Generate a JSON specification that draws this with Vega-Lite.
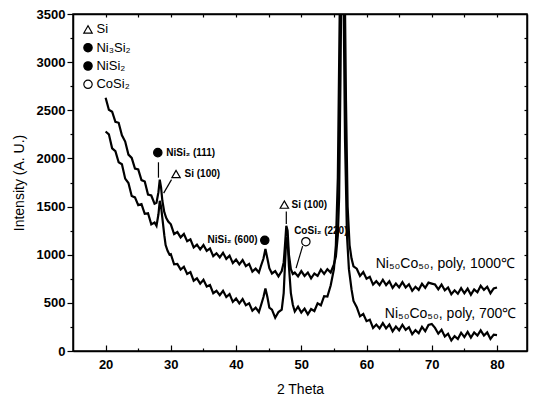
{
  "$schema": "https://vega.github.io/schema/vega-lite/v6.json",
  "width": 454,
  "height": 337,
  "autosize": "none",
  "padding": {"left": 73, "top": 14, "right": 6, "bottom": 48},
  "background": "white",
  "config": {
    "font": "Liberation Sans",
    "view": {"stroke": "black", "strokeWidth": 1.5},
    "axis": {"domainColor": "black", "tickColor": "black", "labelColor": "black", "titleColor": "black", "grid": false, "domainWidth": 1.5, "tickWidth": 1.2}
  },
  "datasets": {
    "curves": [
      {"x":20,"y":2630,"s":"1000"},{"x":20.5,"y":2505,"s":"1000"},{"x":21,"y":2485,"s":"1000"},{"x":21.5,"y":2380,"s":"1000"},{"x":22,"y":2370,"s":"1000"},{"x":22.5,"y":2240,"s":"1000"},{"x":23,"y":2175,"s":"1000"},{"x":23.5,"y":2040,"s":"1000"},{"x":24,"y":2005,"s":"1000"},{"x":24.5,"y":1895,"s":"1000"},{"x":25,"y":1885,"s":"1000"},{"x":25.5,"y":1775,"s":"1000"},{"x":26,"y":1760,"s":"1000"},{"x":26.5,"y":1625,"s":"1000"},{"x":27,"y":1615,"s":"1000"},{"x":27.5,"y":1530,"s":"1000"},{"x":27.8,"y":1540,"s":"1000"},{"x":28.1,"y":1650,"s":"1000"},{"x":28.3,"y":1780,"s":"1000"},{"x":28.5,"y":1700,"s":"1000"},{"x":28.7,"y":1560,"s":"1000"},{"x":29,"y":1440,"s":"1000"},{"x":29.3,"y":1380,"s":"1000"},{"x":29.6,"y":1345,"s":"1000"},{"x":30,"y":1315,"s":"1000"},{"x":30.5,"y":1215,"s":"1000"},{"x":31,"y":1235,"s":"1000"},{"x":31.5,"y":1180,"s":"1000"},{"x":32,"y":1215,"s":"1000"},{"x":32.5,"y":1140,"s":"1000"},{"x":33,"y":1160,"s":"1000"},{"x":33.5,"y":1075,"s":"1000"},{"x":34,"y":1105,"s":"1000"},{"x":34.5,"y":1055,"s":"1000"},{"x":35,"y":1100,"s":"1000"},{"x":35.5,"y":1040,"s":"1000"},{"x":36,"y":1065,"s":"1000"},{"x":36.5,"y":985,"s":"1000"},{"x":37,"y":1015,"s":"1000"},{"x":37.5,"y":973,"s":"1000"},{"x":38,"y":1020,"s":"1000"},{"x":38.5,"y":957,"s":"1000"},{"x":39,"y":990,"s":"1000"},{"x":39.5,"y":913,"s":"1000"},{"x":40,"y":950,"s":"1000"},{"x":40.5,"y":900,"s":"1000"},{"x":41,"y":945,"s":"1000"},{"x":41.5,"y":882,"s":"1000"},{"x":42,"y":905,"s":"1000"},{"x":42.5,"y":825,"s":"1000"},{"x":43,"y":855,"s":"1000"},{"x":43.5,"y":815,"s":"1000"},{"x":43.8,"y":880,"s":"1000"},{"x":44.2,"y":960,"s":"1000"},{"x":44.5,"y":1060,"s":"1000"},{"x":44.8,"y":960,"s":"1000"},{"x":45.1,"y":860,"s":"1000"},{"x":45.5,"y":805,"s":"1000"},{"x":46,"y":830,"s":"1000"},{"x":46.5,"y":775,"s":"1000"},{"x":47,"y":830,"s":"1000"},{"x":47.3,"y":920,"s":"1000"},{"x":47.5,"y":1100,"s":"1000"},{"x":47.7,"y":1300,"s":"1000"},{"x":47.9,"y":1250,"s":"1000"},{"x":48.1,"y":1000,"s":"1000"},{"x":48.4,"y":850,"s":"1000"},{"x":48.7,"y":800,"s":"1000"},{"x":49,"y":815,"s":"1000"},{"x":49.5,"y":775,"s":"1000"},{"x":50,"y":830,"s":"1000"},{"x":50.5,"y":780,"s":"1000"},{"x":51,"y":815,"s":"1000"},{"x":51.5,"y":755,"s":"1000"},{"x":52,"y":805,"s":"1000"},{"x":52.5,"y":780,"s":"1000"},{"x":53,"y":845,"s":"1000"},{"x":53.5,"y":800,"s":"1000"},{"x":54,"y":850,"s":"1000"},{"x":54.5,"y":815,"s":"1000"},{"x":55,"y":900,"s":"1000"},{"x":55.3,"y":980,"s":"1000"},{"x":55.6,"y":1200,"s":"1000"},{"x":55.8,"y":1600,"s":"1000"},{"x":56,"y":2800,"s":"1000"},{"x":56.15,"y":3900,"s":"1000"},{"x":56.6,"y":4200,"s":"1000"},{"x":56.85,"y":2600,"s":"1000"},{"x":57.1,"y":1500,"s":"1000"},{"x":57.4,"y":1100,"s":"1000"},{"x":57.7,"y":960,"s":"1000"},{"x":58,"y":880,"s":"1000"},{"x":58.5,"y":855,"s":"1000"},{"x":59,"y":780,"s":"1000"},{"x":59.5,"y":820,"s":"1000"},{"x":60,"y":750,"s":"1000"},{"x":60.5,"y":770,"s":"1000"},{"x":61,"y":690,"s":"1000"},{"x":61.5,"y":725,"s":"1000"},{"x":62,"y":685,"s":"1000"},{"x":62.5,"y":740,"s":"1000"},{"x":63,"y":685,"s":"1000"},{"x":63.5,"y":725,"s":"1000"},{"x":64,"y":655,"s":"1000"},{"x":64.5,"y":700,"s":"1000"},{"x":65,"y":660,"s":"1000"},{"x":65.5,"y":715,"s":"1000"},{"x":66,"y":660,"s":"1000"},{"x":66.5,"y":693,"s":"1000"},{"x":67,"y":625,"s":"1000"},{"x":67.5,"y":667,"s":"1000"},{"x":68,"y":635,"s":"1000"},{"x":68.5,"y":698,"s":"1000"},{"x":69,"y":655,"s":"1000"},{"x":69.5,"y":710,"s":"1000"},{"x":70,"y":700,"s":"1000"},{"x":70.5,"y":690,"s":"1000"},{"x":71,"y":640,"s":"1000"},{"x":71.5,"y":690,"s":"1000"},{"x":72,"y":630,"s":"1000"},{"x":72.5,"y":660,"s":"1000"},{"x":73,"y":590,"s":"1000"},{"x":73.5,"y":630,"s":"1000"},{"x":74,"y":595,"s":"1000"},{"x":74.5,"y":653,"s":"1000"},{"x":75,"y":600,"s":"1000"},{"x":75.5,"y":648,"s":"1000"},{"x":76,"y":585,"s":"1000"},{"x":76.5,"y":640,"s":"1000"},{"x":77,"y":610,"s":"1000"},{"x":77.5,"y":678,"s":"1000"},{"x":78,"y":635,"s":"1000"},{"x":78.5,"y":667,"s":"1000"},{"x":79,"y":600,"s":"1000"},{"x":79.5,"y":650,"s":"1000"},{"x":80,"y":660,"s":"1000"},
      {"x":20,"y":2280,"s":"700"},{"x":20.5,"y":2250,"s":"700"},{"x":21,"y":2105,"s":"700"},{"x":21.5,"y":2075,"s":"700"},{"x":22,"y":1960,"s":"700"},{"x":22.5,"y":1940,"s":"700"},{"x":23,"y":1790,"s":"700"},{"x":23.5,"y":1745,"s":"700"},{"x":24,"y":1610,"s":"700"},{"x":24.5,"y":1595,"s":"700"},{"x":25,"y":1515,"s":"700"},{"x":25.5,"y":1525,"s":"700"},{"x":26,"y":1425,"s":"700"},{"x":26.5,"y":1430,"s":"700"},{"x":27,"y":1315,"s":"700"},{"x":27.5,"y":1335,"s":"700"},{"x":27.8,"y":1300,"s":"700"},{"x":28.1,"y":1420,"s":"700"},{"x":28.3,"y":1560,"s":"700"},{"x":28.5,"y":1500,"s":"700"},{"x":28.7,"y":1380,"s":"700"},{"x":29,"y":1200,"s":"700"},{"x":29.2,"y":1100,"s":"700"},{"x":29.5,"y":1040,"s":"700"},{"x":29.8,"y":1000,"s":"700"},{"x":30,"y":1005,"s":"700"},{"x":30.5,"y":900,"s":"700"},{"x":31,"y":905,"s":"700"},{"x":31.5,"y":845,"s":"700"},{"x":32,"y":875,"s":"700"},{"x":32.5,"y":800,"s":"700"},{"x":33,"y":820,"s":"700"},{"x":33.5,"y":730,"s":"700"},{"x":34,"y":755,"s":"700"},{"x":34.5,"y":700,"s":"700"},{"x":35,"y":740,"s":"700"},{"x":35.5,"y":670,"s":"700"},{"x":36,"y":685,"s":"700"},{"x":36.5,"y":600,"s":"700"},{"x":37,"y":625,"s":"700"},{"x":37.5,"y":580,"s":"700"},{"x":38,"y":625,"s":"700"},{"x":38.5,"y":560,"s":"700"},{"x":39,"y":590,"s":"700"},{"x":39.5,"y":510,"s":"700"},{"x":40,"y":545,"s":"700"},{"x":40.5,"y":495,"s":"700"},{"x":41,"y":540,"s":"700"},{"x":41.5,"y":475,"s":"700"},{"x":42,"y":495,"s":"700"},{"x":42.5,"y":418,"s":"700"},{"x":43,"y":450,"s":"700"},{"x":43.5,"y":405,"s":"700"},{"x":43.8,"y":470,"s":"700"},{"x":44.2,"y":560,"s":"700"},{"x":44.5,"y":650,"s":"700"},{"x":44.8,"y":560,"s":"700"},{"x":45.1,"y":450,"s":"700"},{"x":45.5,"y":430,"s":"700"},{"x":46,"y":345,"s":"700"},{"x":46.5,"y":405,"s":"700"},{"x":47,"y":430,"s":"700"},{"x":47.3,"y":600,"s":"700"},{"x":47.5,"y":900,"s":"700"},{"x":47.7,"y":1180,"s":"700"},{"x":47.9,"y":1150,"s":"700"},{"x":48.1,"y":880,"s":"700"},{"x":48.4,"y":600,"s":"700"},{"x":48.7,"y":480,"s":"700"},{"x":49,"y":410,"s":"700"},{"x":49.5,"y":460,"s":"700"},{"x":50,"y":400,"s":"700"},{"x":50.5,"y":440,"s":"700"},{"x":51,"y":380,"s":"700"},{"x":51.5,"y":435,"s":"700"},{"x":52,"y":415,"s":"700"},{"x":52.5,"y":495,"s":"700"},{"x":53,"y":475,"s":"700"},{"x":53.5,"y":570,"s":"700"},{"x":54,"y":565,"s":"700"},{"x":54.5,"y":680,"s":"700"},{"x":55,"y":850,"s":"700"},{"x":55.3,"y":1100,"s":"700"},{"x":55.6,"y":1800,"s":"700"},{"x":55.8,"y":3000,"s":"700"},{"x":56,"y":4200,"s":"700"},{"x":56.4,"y":4200,"s":"700"},{"x":56.7,"y":2200,"s":"700"},{"x":57,"y":1200,"s":"700"},{"x":57.3,"y":850,"s":"700"},{"x":57.7,"y":640,"s":"700"},{"x":58,"y":520,"s":"700"},{"x":58.5,"y":455,"s":"700"},{"x":59,"y":360,"s":"700"},{"x":59.5,"y":385,"s":"700"},{"x":60,"y":310,"s":"700"},{"x":60.5,"y":325,"s":"700"},{"x":61,"y":240,"s":"700"},{"x":61.5,"y":275,"s":"700"},{"x":62,"y":235,"s":"700"},{"x":62.5,"y":290,"s":"700"},{"x":63,"y":235,"s":"700"},{"x":63.5,"y":275,"s":"700"},{"x":64,"y":205,"s":"700"},{"x":64.5,"y":253,"s":"700"},{"x":65,"y":215,"s":"700"},{"x":65.5,"y":272,"s":"700"},{"x":66,"y":220,"s":"700"},{"x":66.5,"y":247,"s":"700"},{"x":67,"y":175,"s":"700"},{"x":67.5,"y":217,"s":"700"},{"x":68,"y":185,"s":"700"},{"x":68.5,"y":250,"s":"700"},{"x":69,"y":205,"s":"700"},{"x":69.5,"y":270,"s":"700"},{"x":70,"y":280,"s":"700"},{"x":70.5,"y":240,"s":"700"},{"x":71,"y":180,"s":"700"},{"x":71.5,"y":220,"s":"700"},{"x":72,"y":150,"s":"700"},{"x":72.5,"y":180,"s":"700"},{"x":73,"y":110,"s":"700"},{"x":73.5,"y":155,"s":"700"},{"x":74,"y":125,"s":"700"},{"x":74.5,"y":190,"s":"700"},{"x":75,"y":145,"s":"700"},{"x":75.5,"y":198,"s":"700"},{"x":76,"y":140,"s":"700"},{"x":76.5,"y":193,"s":"700"},{"x":77,"y":160,"s":"700"},{"x":77.5,"y":215,"s":"700"},{"x":78,"y":160,"s":"700"},{"x":78.5,"y":193,"s":"700"},{"x":79,"y":125,"s":"700"},{"x":79.5,"y":170,"s":"700"},{"x":80,"y":165,"s":"700"}
    ],
    "legendText": [
      {"x":18.6,"y":3340,"t":"Si"},
      {"x":18.6,"y":3150,"t":"Ni₃Si₂"},
      {"x":18.6,"y":2960,"t":"NiSi₂"},
      {"x":18.6,"y":2770,"t":"CoSi₂"}
    ],
    "markers": [
      {"x":17.3,"y":3340,"shape":"triangle-up","fill":"open"},
      {"x":17.3,"y":3150,"shape":"circle","fill":"solid"},
      {"x":17.3,"y":2960,"shape":"circle","fill":"solid"},
      {"x":17.3,"y":2770,"shape":"circle","fill":"open"},
      {"x":28.0,"y":2060,"shape":"circle","fill":"solid"},
      {"x":30.8,"y":1838,"shape":"triangle-up","fill":"open"},
      {"x":44.4,"y":1150,"shape":"circle","fill":"solid"},
      {"x":47.4,"y":1520,"shape":"triangle-up","fill":"open"},
      {"x":50.7,"y":1135,"shape":"circle","fill":"open"}
    ],
    "peakTextLeft": [
      {"x":29.3,"y":2060,"t":"NiSi₂ (111)"},
      {"x":32.1,"y":1838,"t":"Si (100)"},
      {"x":48.5,"y":1515,"t":"Si (100)"},
      {"x":48.9,"y":1250,"t":"CoSi₂ (220)"}
    ],
    "peakTextRight": [
      {"x":43.3,"y":1150,"t":"NiSi₂ (600)"}
    ],
    "curveText": [
      {"x":61.4,"y":900,"t":"Ni₅₀Co₅₀, poly, 1000℃"},
      {"x":62.8,"y":385,"t":"Ni₅₀Co₅₀, poly, 700℃"}
    ],
    "arrows": [
      {"x":28.1,"y":1800,"x2":28.1,"y2":1960},
      {"x":28.9,"y":1640,"x2":30.1,"y2":1780},
      {"x":47.7,"y":1320,"x2":47.7,"y2":1450},
      {"x":50.2,"y":1090,"x2":49.2,"y2":860}
    ]
  },
  "resolve": {"axis": {"x": "independent", "y": "independent"}},
  "layer": [
    {
      "data": {"name": "curves"},
      "mark": {"type": "line", "color": "black", "strokeWidth": 2.2, "clip": true},
      "encoding": {
        "x": {"field": "x", "type": "quantitative", "scale": {"domain": [15, 84.6], "nice": false, "zero": false},
          "axis": {"orient": "bottom", "title": "2 Theta", "titleFontSize": 14, "titleFontWeight": "normal", "titlePadding": 11,
            "values": [20,25,30,35,40,45,50,55,60,65,70,75,80],
            "labelExpr": "datum.value % 10 === 0 ? datum.label : ''",
            "labelFontSize": 13, "labelFontWeight": "bold", "labelPadding": 13,
            "tickSize": {"condition": {"test": "datum.value % 10 === 0", "value": -6}, "value": -3}}},
        "y": {"field": "y", "type": "quantitative", "scale": {"domain": [0, 3500], "nice": false},
          "axis": {"orient": "left", "title": "Intensity (A. U.)", "titleFontSize": 14, "titleFontWeight": "normal", "titlePadding": 10,
            "values": [0,250,500,750,1000,1250,1500,1750,2000,2250,2500,2750,3000,3250,3500],
            "labelExpr": "datum.value % 500 === 0 ? datum.label : ''",
            "format": "d",
            "labelFontSize": 13, "labelFontWeight": "bold", "labelPadding": 2,
            "tickSize": {"condition": {"test": "datum.value % 500 === 0", "value": 6}, "value": 3}}},
        "detail": {"field": "s"}
      }
    },
    {
      "data": {"name": "curves"},
      "mark": {"type": "line", "opacity": 0, "clip": true},
      "encoding": {
        "x": {"field": "x", "type": "quantitative", "scale": {"domain": [15, 84.6], "nice": false, "zero": false},
          "axis": {"orient": "top", "title": null, "labels": false, "values": [20,25,30,35,40,45,50,55,60,65,70,75,80], "tickSize": -3}},
        "y": {"field": "y", "type": "quantitative", "scale": {"domain": [0, 3500], "nice": false},
          "axis": {"orient": "right", "title": null, "labels": false, "values": [250,500,750,1000,1250,1500,1750,2000,2250,2500,2750,3000,3250], "tickSize": -3}},
        "detail": {"field": "s"}
      }
    },
    {
      "data": {"name": "arrows"},
      "mark": {"type": "rule", "color": "black", "strokeWidth": 1.2},
      "encoding": {
        "x": {"field": "x", "type": "quantitative", "axis": null},
        "y": {"field": "y", "type": "quantitative", "axis": null},
        "x2": {"field": "x2"},
        "y2": {"field": "y2"}
      }
    },
    {
      "data": {"name": "markers"},
      "mark": {"type": "point", "size": 70, "strokeWidth": 1.2, "color": "black", "opacity": 1},
      "encoding": {
        "x": {"field": "x", "type": "quantitative", "axis": null},
        "y": {"field": "y", "type": "quantitative", "axis": null},
        "shape": {"field": "shape", "type": "nominal", "scale": null, "legend": null},
        "fill": {"field": "fill", "type": "nominal", "scale": {"domain": ["open", "solid"], "range": ["white", "black"]}, "legend": null},
        "stroke": {"value": "black"},
        "fillOpacity": {"value": 1},
        "strokeOpacity": {"value": 1}
      }
    },
    {
      "data": {"name": "legendText"},
      "mark": {"type": "text", "align": "left", "baseline": "middle", "fontSize": 13, "color": "black"},
      "encoding": {
        "x": {"field": "x", "type": "quantitative", "axis": null},
        "y": {"field": "y", "type": "quantitative", "axis": null},
        "text": {"field": "t"}
      }
    },
    {
      "data": {"name": "peakTextLeft"},
      "mark": {"type": "text", "align": "left", "baseline": "middle", "fontSize": 10, "fontWeight": "bold", "color": "black"},
      "encoding": {
        "x": {"field": "x", "type": "quantitative", "axis": null},
        "y": {"field": "y", "type": "quantitative", "axis": null},
        "text": {"field": "t"}
      }
    },
    {
      "data": {"name": "peakTextRight"},
      "mark": {"type": "text", "align": "right", "baseline": "middle", "fontSize": 10, "fontWeight": "bold", "color": "black"},
      "encoding": {
        "x": {"field": "x", "type": "quantitative", "axis": null},
        "y": {"field": "y", "type": "quantitative", "axis": null},
        "text": {"field": "t"}
      }
    },
    {
      "data": {"name": "curveText"},
      "mark": {"type": "text", "align": "left", "baseline": "middle", "fontSize": 14, "color": "black"},
      "encoding": {
        "x": {"field": "x", "type": "quantitative", "axis": null},
        "y": {"field": "y", "type": "quantitative", "axis": null},
        "text": {"field": "t"}
      }
    }
  ]
}
